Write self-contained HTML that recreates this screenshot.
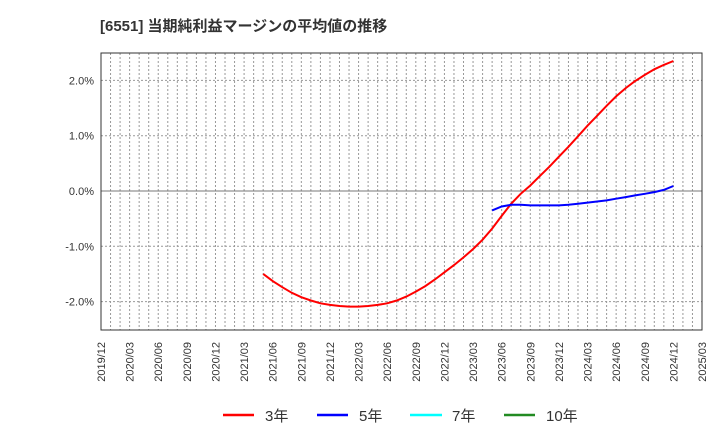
<!DOCTYPE html>
<html><head><meta charset="utf-8"><style>
body{margin:0;background:#fff;}
svg text{font-family:"Liberation Sans","Noto Sans CJK JP",sans-serif;}
</style></head><body>
<svg width="720" height="440" viewBox="0 0 720 440">
<text x="100" y="31" font-size="15" font-weight="bold" fill="#333">[6551]  当期純利益マージンの平均値の推移</text>
<g id="grid"></g>
<g id="axes"></g>
<g id="series"></g>
<g>
<line x1="223" y1="415" x2="254" y2="415" stroke="#ff0000" stroke-width="2.5"/>
<text x="265" y="421" font-size="15" fill="#333">3年</text>
<line x1="317" y1="415" x2="348" y2="415" stroke="#0000ff" stroke-width="2.5"/>
<text x="359" y="421" font-size="15" fill="#333">5年</text>
<line x1="410" y1="415" x2="442" y2="415" stroke="#00ffff" stroke-width="2.5"/>
<text x="452" y="421" font-size="15" fill="#333">7年</text>
<line x1="504" y1="415" x2="535" y2="415" stroke="#228b22" stroke-width="2.5"/>
<text x="546" y="421" font-size="15" fill="#333">10年</text>
</g>
</svg>
<script>
const yTicks=[2,1,0,-1,-2];
const yTickLabels=["2.0%","1.0%","0.0%","-1.0%","-2.0%"];
const xTickLabels=["2019/12","2020/03","2020/06","2020/09","2020/12","2021/03","2021/06","2021/09","2021/12","2022/03","2022/06","2022/09","2022/12","2023/03","2023/06","2023/09","2023/12","2024/03","2024/06","2024/09","2024/12","2025/03"];
const red3Start=17;
const red3=[-1.50,-1.63,-1.74,-1.84,-1.92,-1.98,-2.03,-2.06,
-2.08,-2.09,-2.09,-2.08,-2.06,-2.03,-1.98,-1.91,-1.82,-1.72,-1.60,-1.47,
-1.34,-1.20,-1.05,-0.88,-0.68,-0.45,-0.23,-0.05,0.10,0.27,0.44,0.62,
0.80,0.99,1.18,1.36,1.54,1.71,1.86,1.99,2.10,2.20,2.28,2.35];
const blue5Start=41;
const blue5=[-0.35,-0.28,-0.25,-0.25,-0.26,-0.26,-0.26,-0.26,
-0.25,-0.23,-0.21,-0.19,-0.17,-0.14,-0.11,-0.08,-0.05,-0.02,0.02,0.09];
const L=101,R=702,T=53,B=330,months=63;
const xs=m=>L+(R-L)*m/months;
const ys=v=>191-v*55.3;
const NS="http://www.w3.org/2000/svg";
function mk(tag,attrs,parent){const e=document.createElementNS(NS,tag);for(const k in attrs)e.setAttribute(k,attrs[k]);parent.appendChild(e);return e;}
const grid=document.getElementById('grid'),axes=document.getElementById('axes'),series=document.getElementById('series');
for(let m=1;m<months;m++){const l=mk('line',{x1:xs(m),x2:xs(m),y1:T,y2:B,stroke:'#999','stroke-dasharray':'2,2','stroke-width':1},grid);

}
yTicks.forEach((v,i)=>{const l=mk('line',{x1:L,x2:R,y1:ys(v),y2:ys(v),stroke:v===0?'#777':'#999','stroke-dasharray':v===0?'none':'2,2','stroke-width':1},grid);


const t=mk('text',{x:L-7,y:ys(v)+4,'font-size':11,fill:'#333','text-anchor':'end'},axes);t.textContent=yTickLabels[i];

});
xTickLabels.forEach((s,i)=>{const x=xs(i*3)+4;const t=mk('text',{x:x,y:342,'font-size':11,fill:'#333','text-anchor':'end',transform:`rotate(-90 ${x} 342)`},axes);t.textContent=s;

});
const fr=mk('rect',{x:L,y:T,width:R-L,height:B-T,fill:'none',stroke:'#333','stroke-width':1},axes);


function path(vals,start,color,name){const d=vals.map((v,i)=>(i?'L':'M')+xs(start+i).toFixed(1)+','+ys(v).toFixed(1)).join('');
const p=mk('path',{d:d,fill:'none',stroke:color,'stroke-width':2},series);

}
path(red3,red3Start,'#ff0000','line-3y');
path(blue5,blue5Start,'#0000ff','line-5y');
</script>
</body></html>
